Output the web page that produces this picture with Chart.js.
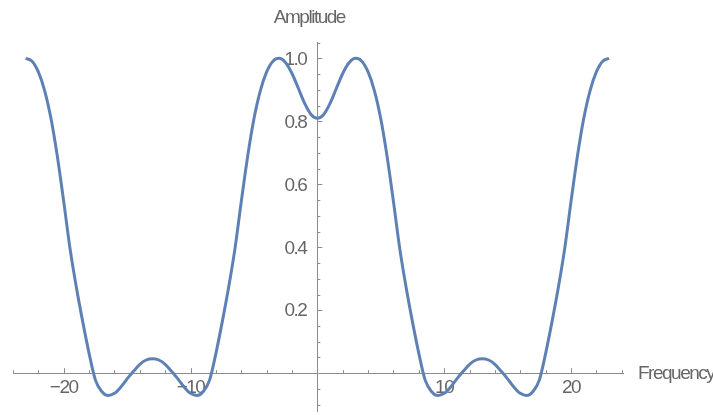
<!DOCTYPE html>
<html>
<head>
<meta charset="utf-8">
<script src="https://cdn.jsdelivr.net/npm/chart.js@4/dist/chart.umd.min.js"></script>
<style>
  html, body { margin: 0; padding: 0; background: #ffffff; }
  #wrap { width: 713px; height: 415px; position: relative; }
</style>
</head>
<body>
<div id="wrap"><canvas id="chart" width="713" height="415"></canvas></div>
<script>
// Filter amplitude response sampled every 0.5 in frequency
const frequencies = [
  -23, -22.5, -22, -21.5, -21, -20.5, -20, -19.5, -19, -18.5, -18, -17.5,
  -17, -16.5, -16, -15.5, -15, -14.5, -14, -13.5, -13, -12.5, -12, -11.5,
  -11, -10.5, -10, -9.5, -9, -8.5, -8, -7.5, -7, -6.5, -6, -5.5,
  -5, -4.5, -4, -3.5, -3, -2.5, -2, -1.5, -1, -0.5, 0,
  0.5, 1, 1.5, 2, 2.5, 3, 3.5, 4, 4.5, 5, 5.5, 6,
  6.5, 7, 7.5, 8, 8.5, 9, 9.5, 10, 10.5, 11, 11.5, 12,
  12.5, 13, 13.5, 14, 14.5, 15, 15.5, 16, 16.5, 17, 17.5, 18,
  18.5, 19, 19.5, 20, 20.5, 21, 21.5, 22, 22.5, 23
];
const amplitudes = [
  1.000, 0.991, 0.957, 0.897, 0.808, 0.688, 0.545, 0.395, 0.272, 0.163, 0.063, -0.022,
  -0.058, -0.071, -0.064, -0.044, -0.018, 0.006, 0.028, 0.042, 0.046, 0.042, 0.028, 0.006,
  -0.018, -0.044, -0.064, -0.071, -0.058, -0.022, 0.063, 0.163, 0.272, 0.395, 0.545, 0.688,
  0.808, 0.897, 0.957, 0.991, 1.000, 0.986, 0.952, 0.905, 0.857, 0.822, 0.810,
  0.822, 0.857, 0.905, 0.952, 0.986, 1.000, 0.991, 0.957, 0.897, 0.808, 0.688, 0.545,
  0.395, 0.272, 0.163, 0.063, -0.022, -0.058, -0.071, -0.064, -0.044, -0.018, 0.006, 0.028,
  0.042, 0.046, 0.042, 0.028, 0.006, -0.018, -0.044, -0.064, -0.071, -0.058, -0.022, 0.063,
  0.163, 0.272, 0.395, 0.545, 0.688, 0.808, 0.897, 0.957, 0.991, 1.000
];

// Axis tick values
const xMajorTicks = [-20, -10, 10, 20];
const yMajorTicks = [0.2, 0.4, 0.6, 0.8, 1.0];
const xMinorStep = 2;
const yMinorStep = 0.05;

const xTitle = 'Frequency';
const yTitle = 'Amplitude';

const FONT = "'Liberation Sans', Arial, sans-serif";
const FONT_SIZE = 19;
const LETTER_SPACING = '-1.5px';
const TEXT_COLOR = '#666666';
const AXIS_COLOR = '#8c8c8c';

// Tight letter spacing for every piece of text on the canvas
const tightText = {
  id: 'tightText',
  beforeUpdate(chart) { chart.ctx.letterSpacing = LETTER_SPACING; },
  beforeDraw(chart) { chart.ctx.letterSpacing = LETTER_SPACING; }
};

// Short tick marks pointing into the plot, y tick labels and axis titles
const axisDecor = {
  id: 'axisDecor',
  beforeDatasetsDraw(chart) {
    const { ctx } = chart;
    const xs = chart.scales.x, ys = chart.scales.y;
    const ox = xs.getPixelForValue(0);
    const oy = ys.getPixelForValue(0);
    ctx.save();
    ctx.letterSpacing = LETTER_SPACING;
    ctx.strokeStyle = AXIS_COLOR;
    ctx.lineWidth = 1;
    ctx.beginPath();
    for (let k = Math.ceil(xs.min / xMinorStep); k * xMinorStep <= xs.max + 1e-9; k++) {
      const v = k * xMinorStep;
      if (k === 0) continue;
      const major = xMajorTicks.some(t => Math.abs(t - v) < 1e-9);
      const len = major ? 5 : 3;
      const px = Math.round(xs.getPixelForValue(v)) + 0.5;
      ctx.moveTo(px, oy);
      ctx.lineTo(px, oy - len);
    }
    for (let k = Math.ceil(ys.min / yMinorStep); k * yMinorStep <= ys.max + 1e-9; k++) {
      const v = k * yMinorStep;
      if (k === 0) continue;
      const major = yMajorTicks.some(t => Math.abs(t - v) < 1e-9);
      const len = major ? 5 : 3;
      const py = Math.round(ys.getPixelForValue(v)) + 0.5;
      ctx.moveTo(ox, py);
      ctx.lineTo(ox + len, py);
    }
    ctx.stroke();

    ctx.fillStyle = TEXT_COLOR;
    ctx.font = FONT_SIZE + 'px ' + FONT;
    ctx.textBaseline = 'middle';
    ctx.textAlign = 'right';
    yMajorTicks.forEach(v => {
      ctx.fillText(v.toFixed(1), ox - 11, ys.getPixelForValue(v) + 1);
    });
    ctx.textAlign = 'center';
    ctx.fillText(yTitle, ox - 8, 18);
    ctx.textAlign = 'left';
    ctx.fillText(xTitle, xs.right + 15, oy + 1);
    ctx.restore();
  }
};

new Chart(document.getElementById('chart'), {
  type: 'line',
  data: {
    datasets: [{
      data: frequencies.map((f, i) => ({ x: f, y: amplitudes[i] })),
      borderColor: '#5e81b5',
      borderWidth: 3,
      pointRadius: 0,
      fill: false,
      cubicInterpolationMode: 'monotone'
    }]
  },
  options: {
    responsive: false,
    animation: false,
    events: [],
    layout: { padding: { left: 13, right: 90, top: 42, bottom: 4 } },
    plugins: { legend: { display: false }, tooltip: { enabled: false } },
    scales: {
      x: {
        type: 'linear',
        min: -24,
        max: 24.1,
        position: { y: 0 },
        grid: { display: false, drawTicks: false },
        border: { display: true, color: AXIS_COLOR, width: 1 },
        afterBuildTicks(scale) { scale.ticks = xMajorTicks.map(v => ({ value: v })); },
        afterFit(scale) { scale.height = 0; },
        ticks: {
          autoSkip: false,
          maxRotation: 0,
          padding: 3,
          color: TEXT_COLOR,
          font: { family: FONT, size: FONT_SIZE },
          callback: v => (v < 0 ? '\u2212' + Math.abs(v) : String(v))
        }
      },
      y: {
        type: 'linear',
        min: -0.12,
        max: 1.052,
        position: { x: 0 },
        grid: { display: false, drawTicks: false },
        border: { display: true, color: AXIS_COLOR, width: 1 },
        afterFit(scale) { scale.width = 0; },
        ticks: { display: false }
      }
    }
  },
  plugins: [tightText, axisDecor]
});
</script>
</body>
</html>
